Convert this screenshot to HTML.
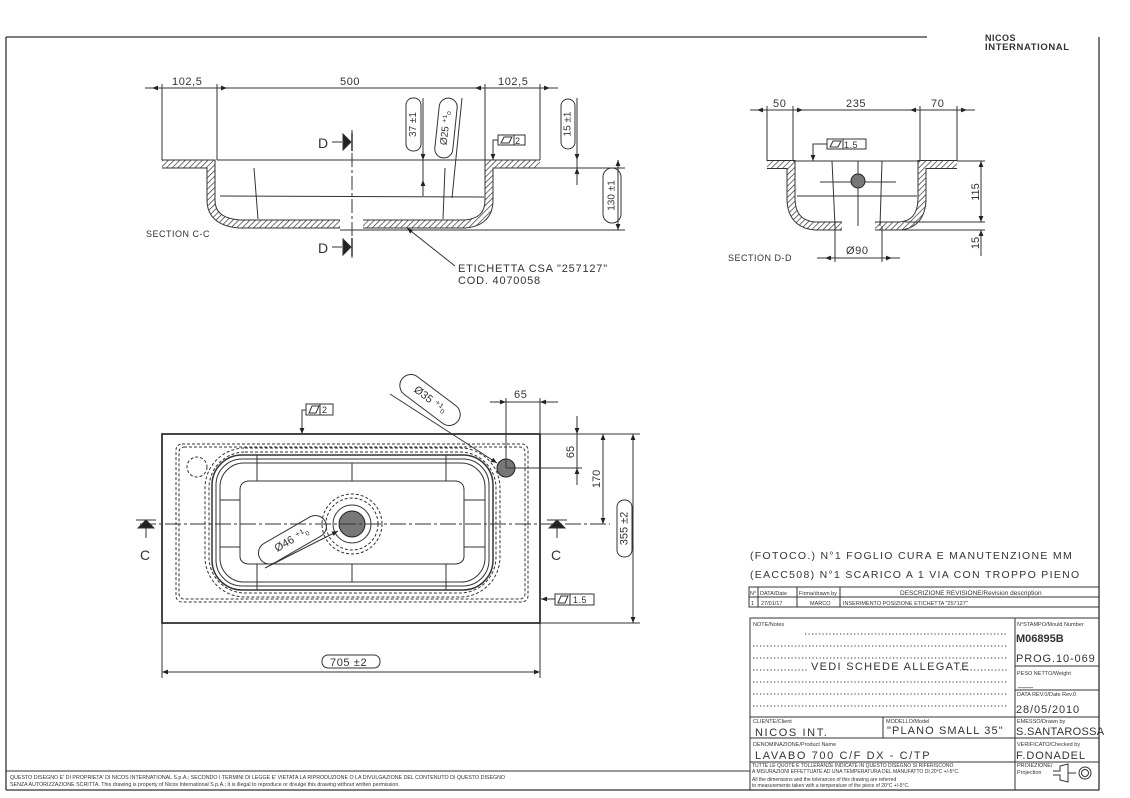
<!DOCTYPE html>
<html><head><meta charset="utf-8"><style>
html,body{margin:0;padding:0;background:#fff}
svg{display:block}
text{font-family:"Liberation Sans",sans-serif;fill:#333}
</style></head><body>
<svg width="1130" height="798" viewBox="0 0 1130 798" xmlns="http://www.w3.org/2000/svg">
<defs>
<pattern id="h" width="4" height="4" patternUnits="userSpaceOnUse" patternTransform="rotate(45)">
<rect width="4" height="4" fill="#fff"/><line x1="0" y1="0" x2="0" y2="4" stroke="#333" stroke-width="1.4"/></pattern>
<marker id="a" viewBox="0 0 10 10" refX="10" refY="5" markerWidth="9" markerHeight="6" orient="auto-start-reverse"><path d="M0,1L10,5L0,9z" fill="#222"/></marker>
</defs>
<g stroke="#333" fill="none" stroke-width="1">
<line x1="6" y1="37" x2="927" y2="37" stroke-width="1.3"/>
<line x1="6" y1="37" x2="6" y2="790" stroke-width="1.3"/>
<line x1="1099" y1="37" x2="1099" y2="790" stroke-width="1.3"/>
<line x1="6" y1="790" x2="1099" y2="790" stroke-width="1.3"/>
<line x1="6" y1="771" x2="750" y2="771"/>

<!-- SECTION C-C -->
<line x1="145" y1="88" x2="558" y2="88"/>
<line x1="162" y1="84" x2="162" y2="160"/><line x1="217" y1="84" x2="217" y2="160"/>
<line x1="485" y1="84" x2="485" y2="160"/><line x1="540" y1="84" x2="540" y2="160"/>
<line x1="162" y1="88" x2="152" y2="88" marker-end="url(#a)"/>
<line x1="217" y1="88" x2="227" y2="88" marker-end="url(#a)"/>
<line x1="485" y1="88" x2="475" y2="88" marker-end="url(#a)"/>
<line x1="540" y1="88" x2="550" y2="88" marker-end="url(#a)"/>
<path d="M162,164H211V200Q211,222 240,224H340" stroke="#333" stroke-width="9"/>
<path d="M162,164H211V200Q211,222 240,224H340" stroke="url(#h)" stroke-width="7"/>
<path d="M363,224H465Q489,222 489,200V164H540" stroke="#333" stroke-width="9"/>
<path d="M363,224H465Q489,222 489,200V164H540" stroke="url(#h)" stroke-width="7"/>
<line x1="217" y1="160" x2="485" y2="160"/>
<line x1="220" y1="196" x2="484" y2="197"/>
<line x1="254" y1="168" x2="258" y2="219"/><line x1="445" y1="168" x2="443" y2="219"/>
<line x1="540" y1="168" x2="625" y2="168"/><line x1="340" y1="230" x2="625" y2="230"/>
<line x1="352" y1="130" x2="352" y2="258" stroke-dasharray="14,3,3,3"/>
<line x1="423" y1="98" x2="423" y2="196"/>
<line x1="423" y1="150" x2="423" y2="160" marker-end="url(#a)"/>
<line x1="423" y1="196" x2="423" y2="180" marker-end="url(#a)"/>
<line x1="462" y1="98" x2="452" y2="198"/>
<line x1="577" y1="98" x2="577" y2="185"/>
<line x1="577" y1="150" x2="577" y2="160" marker-end="url(#a)"/>
<line x1="577" y1="185" x2="577" y2="168" marker-end="url(#a)"/>
<line x1="618" y1="160" x2="618" y2="230"/>
<line x1="618" y1="185" x2="618" y2="160" marker-end="url(#a)"/>
<line x1="618" y1="200" x2="618" y2="230" marker-end="url(#a)"/>
<rect x="406" y="98" width="15" height="53" rx="7"/>
<rect x="437" y="98" width="18" height="60" rx="9" transform="rotate(6 446 128)"/>
<rect x="561" y="99" width="14" height="50" rx="7"/>
<rect x="603" y="168" width="18" height="55" rx="9"/>
<rect x="498" y="135" width="27" height="10"/><line x1="514" y1="135" x2="514" y2="145"/>
<path d="M501,143l3,-6h8l-3,6z"/>
<path d="M498,140h-5v18" /><line x1="493" y1="150" x2="493" y2="160" marker-end="url(#a)"/>
<line x1="455" y1="266" x2="407" y2="228" marker-end="url(#a)"/>
<line x1="332" y1="142" x2="342" y2="142"/><path d="M343,134V150L351,142z" fill="#222"/>
<line x1="352" y1="133" x2="352" y2="151" stroke-width="1.5"/>
<line x1="332" y1="247" x2="342" y2="247"/><path d="M343,239V255L351,247z" fill="#222"/>
<line x1="352" y1="238" x2="352" y2="256" stroke-width="1.5"/>

<!-- SECTION D-D -->
<line x1="750" y1="110" x2="975" y2="110"/>
<line x1="767" y1="106" x2="767" y2="161"/><line x1="793" y1="106" x2="793" y2="161"/>
<line x1="920" y1="106" x2="920" y2="161"/><line x1="957" y1="106" x2="957" y2="161"/>
<line x1="767" y1="110" x2="757" y2="110" marker-end="url(#a)"/>
<line x1="793" y1="110" x2="803" y2="110" marker-end="url(#a)"/>
<line x1="920" y1="110" x2="910" y2="110" marker-end="url(#a)"/>
<line x1="957" y1="110" x2="967" y2="110" marker-end="url(#a)"/>
<path d="M767,164.5H791V200Q792,224 815,226H842" stroke="#333" stroke-width="9"/>
<path d="M767,164.5H791V200Q792,224 815,226H842" stroke="url(#h)" stroke-width="7"/>
<path d="M875,226H900Q921,224 922,200V164.5H957" stroke="#333" stroke-width="9"/>
<path d="M875,226H900Q921,224 922,200V164.5H957" stroke="url(#h)" stroke-width="7"/>
<line x1="793" y1="161" x2="920" y2="161"/>
<line x1="797" y1="196" x2="917" y2="196"/>
<line x1="832" y1="161" x2="835" y2="226"/><line x1="858" y1="161" x2="858" y2="226"/><line x1="882" y1="161" x2="880" y2="226"/>
<line x1="820" y1="182" x2="896" y2="182"/>
<line x1="957" y1="161" x2="985" y2="161"/><line x1="905" y1="222" x2="985" y2="222"/><line x1="880" y1="230" x2="985" y2="230"/>
<line x1="981" y1="161" x2="981" y2="222"/>
<line x1="981" y1="180" x2="981" y2="161" marker-end="url(#a)"/>
<line x1="981" y1="205" x2="981" y2="222" marker-end="url(#a)"/>
<line x1="981" y1="230" x2="981" y2="256"/><line x1="981" y1="240" x2="981" y2="230" marker-end="url(#a)"/>
<line x1="835" y1="226" x2="835" y2="262"/><line x1="882" y1="226" x2="882" y2="262"/>
<line x1="817" y1="258" x2="900" y2="258"/>
<line x1="835" y1="258" x2="825" y2="258" marker-end="url(#a)"/>
<line x1="882" y1="258" x2="892" y2="258" marker-end="url(#a)"/>
<circle cx="858" cy="181" r="7" fill="#777" stroke="#222"/>
<rect x="827" y="139" width="39" height="10"/><line x1="843" y1="139" x2="843" y2="149"/>
<path d="M830,147l3,-6h8l-3,6z"/>
<path d="M827,144h-14v17"/><line x1="813" y1="152" x2="813" y2="161" marker-end="url(#a)"/>

<!-- PLAN VIEW -->
<rect x="162" y="434" width="378" height="189" stroke-width="1.8"/>
<rect x="176" y="444" width="352" height="158" rx="6" stroke-dasharray="3,2"/>
<rect x="179" y="447" width="346" height="152" rx="5" stroke-dasharray="3,2"/>
<rect x="205" y="448" width="295" height="149" rx="40" stroke-dasharray="3,2"/>
<rect x="209" y="452" width="287" height="141" rx="36" stroke-dasharray="3,2"/>
<rect x="212" y="455" width="281" height="135" rx="30" stroke-width="1.5"/>
<rect x="216" y="459" width="273" height="127" rx="26"/>
<rect x="220" y="463" width="265" height="119" rx="24"/>
<path d="M248,481H456Q464,482 464,490V556Q464,563 456,564H248Q240,563 240,556V490Q240,482 248,481z"/>
<line x1="257" y1="455" x2="257" y2="481"/><line x1="352" y1="463" x2="352" y2="481"/><line x1="446" y1="455" x2="446" y2="481"/>
<line x1="257" y1="564" x2="257" y2="590"/><line x1="352" y1="564" x2="352" y2="582"/><line x1="446" y1="564" x2="446" y2="590"/>
<line x1="220" y1="500" x2="240" y2="500"/><line x1="220" y1="547" x2="240" y2="547"/>
<line x1="464" y1="500" x2="485" y2="500"/><line x1="464" y1="547" x2="485" y2="547"/>
<circle cx="197" cy="467" r="10" stroke-dasharray="3,2"/>
<circle cx="352" cy="524" r="30" stroke-dasharray="3,2"/>
<circle cx="352" cy="524" r="26" stroke-dasharray="3,2"/>
<circle cx="352" cy="524" r="19"/>
<circle cx="352" cy="524" r="13" fill="#777" stroke="#222"/>
<circle cx="506" cy="468" r="9" fill="#777" stroke="#222"/>
<line x1="140" y1="524" x2="610" y2="524" stroke-dasharray="16,3,3,3"/>
<path d="M136,520h20M146,520l-8,8h16z" fill="#222"/>
<path d="M547,520h20M557,520l-8,8h16z" fill="#222"/>
<line x1="146" y1="528" x2="146" y2="538"/><line x1="557" y1="528" x2="557" y2="538"/>
<line x1="506" y1="398" x2="506" y2="468"/><line x1="540" y1="398" x2="540" y2="434"/>
<line x1="490" y1="402" x2="558" y2="402"/>
<line x1="496" y1="402" x2="506" y2="402" marker-end="url(#a)"/>
<line x1="550" y1="402" x2="540" y2="402" marker-end="url(#a)"/>
<line x1="540" y1="434" x2="640" y2="434"/><line x1="506" y1="468" x2="582" y2="468"/>
<line x1="577" y1="416" x2="577" y2="485"/>
<line x1="577" y1="424" x2="577" y2="434" marker-end="url(#a)"/>
<line x1="577" y1="478" x2="577" y2="468" marker-end="url(#a)"/>
<line x1="603" y1="434" x2="603" y2="524"/>
<line x1="603" y1="450" x2="603" y2="434" marker-end="url(#a)"/>
<line x1="603" y1="505" x2="603" y2="524" marker-end="url(#a)"/>
<line x1="540" y1="623" x2="640" y2="623"/>
<line x1="633" y1="434" x2="633" y2="623"/>
<line x1="633" y1="450" x2="633" y2="434" marker-end="url(#a)"/>
<line x1="633" y1="605" x2="633" y2="623" marker-end="url(#a)"/>
<rect x="617" y="500" width="15" height="57" rx="7"/>
<line x1="162" y1="623" x2="162" y2="678"/><line x1="540" y1="623" x2="540" y2="678"/>
<line x1="162" y1="672" x2="540" y2="672"/>
<line x1="180" y1="672" x2="162" y2="672" marker-end="url(#a)"/>
<line x1="520" y1="672" x2="540" y2="672" marker-end="url(#a)"/>
<rect x="322" y="655" width="58" height="13" rx="6"/>
<rect x="306" y="404" width="27" height="11"/><line x1="320" y1="404" x2="320" y2="415"/>
<path d="M309,413l3,-7h7l-3,7z"/>
<path d="M306,410h-4v14"/><line x1="302" y1="424" x2="302" y2="434" marker-end="url(#a)"/>
<rect x="555" y="594" width="39" height="11"/><line x1="570" y1="594" x2="570" y2="605"/>
<path d="M558,603l3,-7h7l-3,7z"/>
<line x1="555" y1="599" x2="541" y2="599" marker-end="url(#a)"/>
<rect x="395" y="389" width="70" height="22" rx="11" transform="rotate(37 430 400)"/>
<line x1="390" y1="394" x2="497" y2="463" marker-end="url(#a)"/>
<rect x="255" y="529" width="75" height="22" rx="11" transform="rotate(-30 292 540)"/>
<line x1="265" y1="568" x2="338" y2="531" marker-end="url(#a)"/>

<!-- TITLE BLOCK -->
<rect x="749" y="587" width="350" height="20"/>
<line x1="749" y1="597" x2="1099" y2="597"/>
<line x1="758" y1="587" x2="758" y2="607"/><line x1="797" y1="587" x2="797" y2="607"/><line x1="840" y1="587" x2="840" y2="607"/>
<rect x="750" y="618" width="349" height="172"/>
<line x1="1015" y1="618" x2="1015" y2="790"/>
<line x1="1015" y1="666" x2="1099" y2="666"/><line x1="1015" y1="690" x2="1099" y2="690"/>
<line x1="750" y1="717" x2="1099" y2="717"/><line x1="750" y1="738" x2="1099" y2="738"/>
<line x1="750" y1="762" x2="1099" y2="762"/>
<line x1="883" y1="717" x2="883" y2="738"/>
<g stroke-dasharray="1.2,2.3" stroke-width="1.1">
<line x1="805" y1="634" x2="1008" y2="634"/>
<line x1="753" y1="646" x2="1008" y2="646"/>
<line x1="753" y1="658" x2="1008" y2="658"/>
<line x1="753" y1="670" x2="808" y2="670"/><line x1="960" y1="670" x2="1008" y2="670"/>
<line x1="753" y1="682" x2="1008" y2="682"/>
<line x1="753" y1="694" x2="1008" y2="694"/>
<line x1="753" y1="706" x2="1008" y2="706"/>
</g>
<path d="M1053,771h7v-5l8,-2v18l-8,-2v-5h-7"/>
<line x1="1068" y1="773" x2="1076" y2="773"/>
<circle cx="1085" cy="773" r="6"/><circle cx="1085" cy="773" r="3.5"/>
</g>

<!-- TEXT -->
<g font-size="11" letter-spacing="0.6">
<text x="172" y="85">102,5</text><text x="340" y="85">500</text><text x="498" y="85">102,5</text>
<text x="773" y="107">50</text><text x="846" y="107">235</text><text x="931" y="107">70</text>
<text x="846" y="254">Ø90</text>
<text x="514" y="398">65</text>
<text x="330" y="666">705 ±2</text>
</g>
<g font-size="10" text-anchor="middle" dominant-baseline="central">
<text transform="translate(413.5 124.5) rotate(-90)">37 ±1</text>
<text transform="translate(446 128) rotate(-84)">Ø25 ⁺¹₀</text>
<text transform="translate(568 124) rotate(-90)">15 ±1</text>
<text transform="translate(612 195.5) rotate(-90)">130 ±1</text>
<text transform="translate(976 192) rotate(-90)" font-size="11">115</text>
<text transform="translate(976 243) rotate(-90)" font-size="11">15</text>
<text transform="translate(571 452) rotate(-90)" font-size="11">65</text>
<text transform="translate(597 479) rotate(-90)" font-size="11">170</text>
<text transform="translate(624.5 528.5) rotate(-90)" font-size="11">355 ±2</text>
<text transform="translate(430 400) rotate(37)" font-size="11">Ø35 ⁺¹₀</text>
<text transform="translate(292 540) rotate(-30)" font-size="11">Ø46 ⁺¹₀</text>
</g>
<g font-size="14">
<text x="318" y="148">D</text><text x="318" y="253">D</text>
<text x="140" y="560">C</text><text x="551" y="560">C</text>
</g>
<g font-size="9" letter-spacing="0.5">
<text x="515" y="144">2</text><text x="844" y="148">1.5</text><text x="322" y="413">2</text><text x="573" y="603">1.5</text>
<text x="146" y="237">SECTION C-C</text><text x="728" y="261">SECTION D-D</text>
</g>
<text x="458" y="272" font-size="11" letter-spacing="0.8">ETICHETTA CSA "257127"</text>
<text x="458" y="284" font-size="11" letter-spacing="0.8">COD. 4070058</text>
<text x="985" y="41" font-size="9" font-weight="bold" fill="#111" letter-spacing="0.5">NICOS</text>
<text x="985" y="50" font-size="9.5" font-weight="bold" fill="#111" letter-spacing="0.6">INTERNATIONAL</text>
<text x="750" y="559" font-size="10.5" letter-spacing="1.3">(FOTOCO.) N°1 FOGLIO CURA E MANUTENZIONE MM</text>
<text x="750" y="578" font-size="10.5" letter-spacing="1.3">(EACC508) N°1 SCARICO A 1 VIA CON TROPPO PIENO</text>
<g font-size="5.5">
<text x="750" y="595">N°</text><text x="760" y="595">DATA/Date</text><text x="799" y="595">Firma/drawn by</text>
<text x="900" y="595" font-size="6.5">DESCRIZIONE REVISIONE/Revision description</text>
<text x="751" y="605">1</text><text x="761" y="605">27/01/17</text><text x="810" y="605">MARCO</text>
<text x="843" y="605">INSERIMENTO POSIZIONE ETICHETTA "257127"</text>
<text x="753" y="626">NOTE/Notes</text>
<text x="1017" y="626">N°STAMPO/Mould Number</text>
<text x="1017" y="675">PESO NETTO/Weight</text>
<text x="1017" y="696">DATA REV.0/Date Rev.0</text>
<text x="753" y="723">CLIENTE/Client</text><text x="886" y="723">MODELLO/Model</text>
<text x="1017" y="723">EMESSO/Drawn by</text>
<text x="753" y="746">DENOMINAZIONE/Product Name</text>
<text x="1017" y="746">VERIFICATO/Checked by</text>
<text x="1017" y="767">PROIEZIONE/</text><text x="1017" y="774">Projection</text>
<text x="752" y="767" font-size="5">TUTTE LE QUOTE E TOLLERANZE INDICATE IN QUESTO DISEGNO SI RIFERISCONO</text>
<text x="752" y="773" font-size="5">A MISURAZIONI EFFETTUATE AD UNA TEMPERATURA DEL MANUFATTO DI 20°C +/-5°C.</text>
<text x="752" y="781" font-size="5">All the dimensions and the tolerances of this drawing are referred</text>
<text x="752" y="787" font-size="5">to measurements taken with a temperature of the piece of 20°C +/-5°C.</text>
<text x="10" y="779" font-size="5.3">QUESTO DISEGNO E' DI PROPRIETA' DI NICOS INTERNATIONAL S.p.A.; SECONDO I TERMINI DI LEGGE E' VIETATA LA RIPRODUZIONE O LA DIVULGAZIONE DEL CONTENUTO DI QUESTO DISEGNO</text>
<text x="10" y="786" font-size="5.3">SENZA AUTORIZZAZIONE SCRITTA. This drawing is property of Nicos International S.p.A.; it is illegal to reproduce or divulge this drawing without written permission.</text>
</g>
<text x="1016" y="642" font-size="11" font-weight="bold" fill="#111">M06895B</text>
<g font-size="11" letter-spacing="0.9">
<text x="1016" y="662">PROG.10-069</text>
<text x="1016" y="713">28/05/2010</text>
<text x="1016" y="735" letter-spacing="0.3">S.SANTAROSSA</text>
<text x="1016" y="759">F.DONADEL</text>
<text x="755" y="736" letter-spacing="1.6">NICOS INT.</text>
<text x="887" y="734" letter-spacing="1.1">"PLANO SMALL 35"</text>
<text x="755" y="759" letter-spacing="1.6">LAVABO 700 C/F DX - C/TP</text>
<text x="811" y="670" letter-spacing="1.3">VEDI SCHEDE ALLEGATE</text>
</g>
<text x="1018" y="686" font-size="9">___</text>
</svg>
</body></html>
